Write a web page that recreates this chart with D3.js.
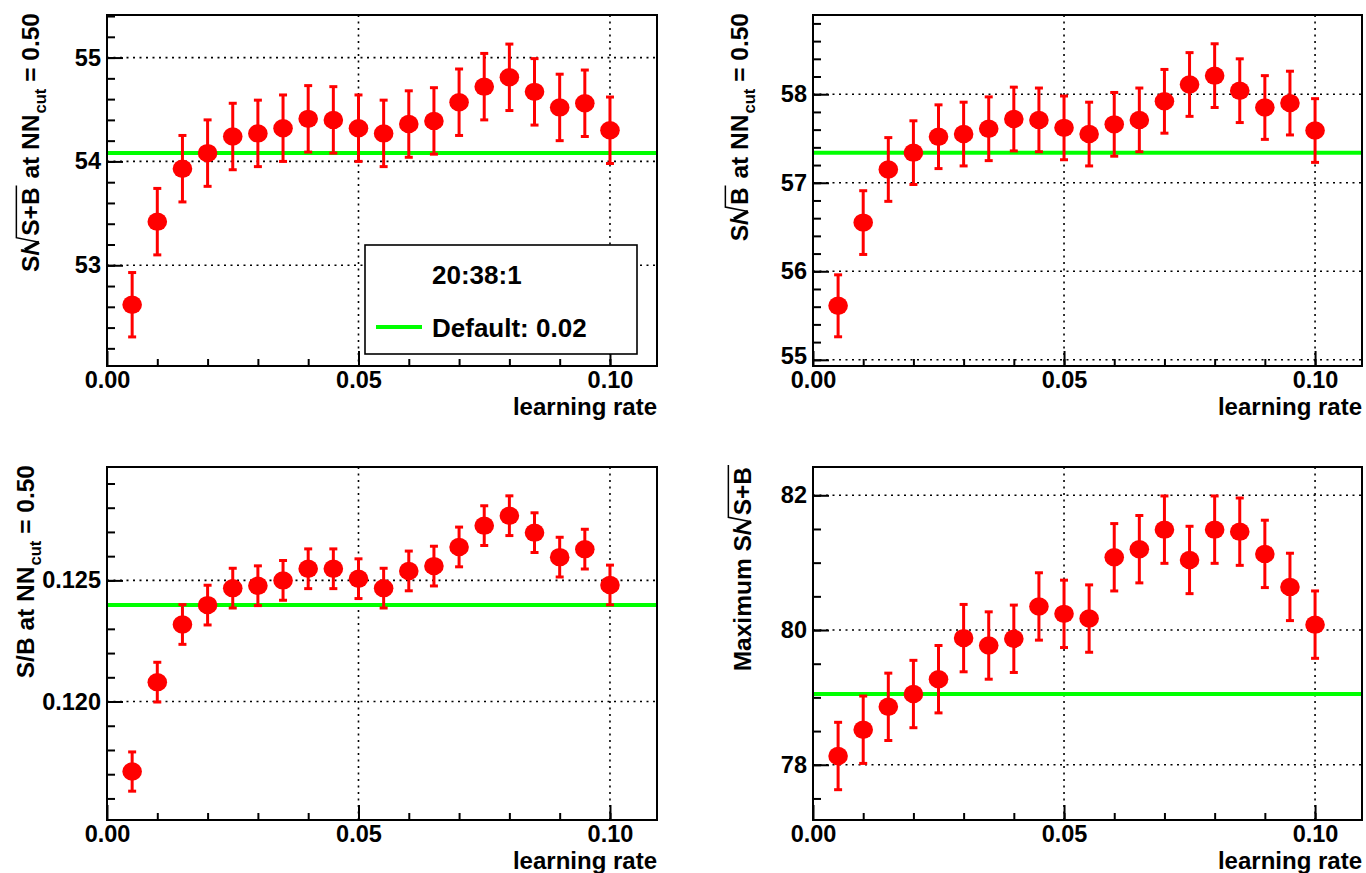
<!DOCTYPE html>
<html>
<head>
<meta charset="utf-8">
<script src="https://cdn.jsdelivr.net/npm/d3@7"></script>
<style>
  html, body { margin: 0; padding: 0; background: #fff; }
  svg text { font-family: "Liberation Sans", Arial, Helvetica, sans-serif; font-weight: bold; fill: #000; }
</style>
</head>
<body>
<svg id="canvas" width="1366" height="873"></svg>
<script>
// ---- data: learning-rate scan of the NN (20:38:1 architecture) ----
const learningRate = [0.005, 0.010, 0.015, 0.020, 0.025, 0.030, 0.035, 0.040, 0.045, 0.050,
                      0.055, 0.060, 0.065, 0.070, 0.075, 0.080, 0.085, 0.090, 0.095, 0.100];

// S/sqrt(S+B) at NN_cut = 0.50
const signifSB = [52.62, 53.42, 53.93, 54.08, 54.24, 54.27, 54.32, 54.41, 54.40, 54.32,
                  54.27, 54.36, 54.39, 54.57, 54.72, 54.81, 54.67, 54.52, 54.56, 54.30];
const signifSBErr = [0.31, 0.32, 0.32, 0.32, 0.32, 0.32, 0.32, 0.32, 0.32, 0.32,
                     0.32, 0.32, 0.32, 0.32, 0.32, 0.32, 0.32, 0.32, 0.32, 0.32];

// S/sqrt(B) at NN_cut = 0.50
const signifB = [55.61, 56.55, 57.15, 57.34, 57.52, 57.55, 57.61, 57.72, 57.71, 57.62,
                 57.55, 57.66, 57.71, 57.92, 58.11, 58.21, 58.04, 57.85, 57.90, 57.59];
const signifBErr = [0.35, 0.36, 0.36, 0.36, 0.36, 0.36, 0.36, 0.36, 0.36, 0.36,
                    0.36, 0.36, 0.36, 0.36, 0.36, 0.36, 0.36, 0.36, 0.36, 0.36];

// S/B at NN_cut = 0.50
const sOverB = [0.11711, 0.12080, 0.12318, 0.12398, 0.12468, 0.12478, 0.12500, 0.12548, 0.12548, 0.12507,
                0.12468, 0.12539, 0.12559, 0.12638, 0.12726, 0.12767, 0.12697, 0.12596, 0.12629, 0.12481];
const sOverBErr = [0.00081, 0.00082, 0.00082, 0.00082, 0.00082, 0.00082, 0.00082, 0.00082, 0.00082, 0.00082,
                   0.00082, 0.00082, 0.00082, 0.00082, 0.00082, 0.00082, 0.00082, 0.00082, 0.00082, 0.00082];

// Maximum S/sqrt(S+B)
const maxSignif = [78.13, 78.52, 78.86, 79.05, 79.27, 79.88, 79.77, 79.87, 80.35, 80.24,
                   80.17, 81.08, 81.20, 81.49, 81.04, 81.49, 81.46, 81.13, 80.64, 80.08];
const maxSignifErr = [0.50, 0.50, 0.50, 0.50, 0.50, 0.50, 0.50, 0.50, 0.50, 0.50,
                      0.50, 0.50, 0.50, 0.50, 0.50, 0.50, 0.50, 0.50, 0.50, 0.50];

const defaultRate = 0.02;
const legendHeader = "20:38:1";
const legendEntry = "Default: 0.02";
const xTitle = "learning rate";

// ---- axis ticks ----
const xMajorTicks = [0.00, 0.05, 0.10];
const xMajorLabels = ["0.00", "0.05", "0.10"];
const yTicks1 = [53, 54, 55];
const yTicks2 = [55, 56, 57, 58];
const yTicks3 = [0.120, 0.125];
const yTicks3Labels = ["0.120", "0.125"];
const yTicks4 = [78, 80, 82];

const RED = "#ff0000";
const GREEN = "#00ff00";
const FS_TICK = 23.5;
const FS_TITLE = 24.5;
const FS_XTITLE = 24;
const FS_LEG = 26;

const svg = d3.select("#canvas");
const xDomain = [0, 0.10935];
const xMinor = d3.range(0.01, 0.1001, 0.01);

const panels = [
  { box: [107, 15, 657, 366], yDomain: [52.03, 55.41], yMajor: yTicks1, yFmt: d => String(d),
    yMinor: d3.range(52.2, 55.41, 0.2), values: signifSB, errors: signifSBErr,
    title: [{t: "S/"}, {sqrt: "S+B"}, {t: " at NN"}, {sub: "cut"}, {t: " = 0.50"}], titleX: 39, legend: true },
  { box: [813, 15, 1362, 366], yDomain: [54.93, 58.895], yMajor: yTicks2, yFmt: d => String(d),
    yMinor: d3.range(55.0, 58.81, 0.2), values: signifB, errors: signifBErr,
    title: [{t: "S/"}, {sqrt: "B"}, {t: " at NN"}, {sub: "cut"}, {t: " = 0.50"}], titleX: 748 },
  { box: [107, 467, 657, 820], yDomain: [0.11511, 0.12968], yMajor: yTicks3, yFmt: (d, i) => yTicks3Labels[i],
    yMinor: d3.range(0.116, 0.12951, 0.001), values: sOverB, errors: sOverBErr,
    title: [{t: "S/B at NN"}, {sub: "cut"}, {t: " = 0.50"}], titleX: 34 },
  { box: [813, 467, 1362, 820], yDomain: [77.18, 82.42], yMajor: yTicks4, yFmt: d => String(d),
    yMinor: d3.range(77.5, 82.01, 0.5), values: maxSignif, errors: maxSignifErr,
    title: [{t: "Maximum S/"}, {sqrt: "S+B"}], titleX: 751 }
];

// rotated y-axis title built from text pieces, a subscript and a radical sign
function drawYTitle(parent, parts, baseX, endY) {
  const FS = FS_TITLE;
  const outer = parent.append("g");
  const capH = FS * 0.72;
  let cx = 0;
  parts.forEach(p => {
    if (p.t !== undefined) {
      const t = outer.append("text").attr("x", cx).attr("y", 0)
        .style("font-size", FS + "px").attr("xml:space", "preserve").text(p.t);
      cx += t.node().getComputedTextLength();
    } else if (p.sub !== undefined) {
      const t = outer.append("text").attr("x", cx + 1).attr("y", FS * 0.3)
        .style("font-size", (FS * 0.68) + "px").text(p.sub);
      cx += t.node().getComputedTextLength() + 1;
    } else if (p.sqrt !== undefined) {
      const r = FS * 0.45;
      const t = outer.append("text").attr("x", cx + r + 2).attr("y", 0)
        .style("font-size", FS + "px").text(p.sqrt);
      const w = t.node().getComputedTextLength();
      const top = -capH - 5;
      outer.append("path")
        .attr("d", `M${cx - 1},${-capH * 0.8} L${cx + r * 0.6},0`)
        .attr("stroke", "#000").attr("stroke-width", 3.4).attr("fill", "none");
      outer.append("path")
        .attr("d", `M${cx + r * 0.6},0 L${cx + r},${top} L${cx + r + w + 4},${top}`)
        .attr("stroke", "#000").attr("stroke-width", 1.5).attr("fill", "none");
      cx += r + 2 + w + 2;
    }
  });
  outer.attr("transform", `translate(${baseX},${endY + cx}) rotate(-90)`);
}

panels.forEach(P => {
  const [L, T, R, B] = P.box;
  const g = svg.append("g");
  const x = d3.scaleLinear().domain(xDomain).range([L, R]);
  const y = d3.scaleLinear().domain(P.yDomain).range([B, T]);

  // dotted grid at the major ticks
  g.append("g").selectAll("line").data(xMajorTicks.filter(v => v > 0)).join("line")
    .attr("x1", d => x(d)).attr("x2", d => x(d)).attr("y1", T).attr("y2", B)
    .attr("stroke", "#000").attr("stroke-width", 1.6).attr("stroke-dasharray", "2,4.5");
  g.append("g").selectAll("line").data(P.yMajor).join("line")
    .attr("x1", L).attr("x2", R).attr("y1", d => y(d)).attr("y2", d => y(d))
    .attr("stroke", "#000").attr("stroke-width", 1.6).attr("stroke-dasharray", "2,4.5");

  // axes: ticks point into the frame
  const yAxisMinor = d3.axisLeft(y).tickValues(P.yMinor).tickSize(-8).tickFormat("");
  const yAxisMajor = d3.axisLeft(y).tickValues(P.yMajor).tickSize(-16).tickPadding(6).tickFormat(P.yFmt);
  const xAxisMinor = d3.axisBottom(x).tickValues(xMinor).tickSize(-7).tickFormat("");
  const xAxisMajor = d3.axisBottom(x).tickValues(xMajorTicks).tickSize(-15).tickPadding(5)
    .tickFormat((d, i) => xMajorLabels[i]);

  [[yAxisMinor, `translate(${L},0)`, "y"], [yAxisMajor, `translate(${L},0)`, "y"],
   [xAxisMinor, `translate(0,${B})`, "x"], [xAxisMajor, `translate(0,${B})`, "x"]].forEach(([ax, tr, kind]) => {
    const a = g.append("g").attr("transform", tr).call(ax);
    a.select(".domain").remove();
    a.selectAll(".tick line").attr("stroke", "#000").attr("stroke-width", 2);
    a.selectAll(".tick text").style("font-size", FS_TICK + "px").attr("fill", "#000")
      .style("font-family", '"Liberation Sans", Arial, sans-serif').style("font-weight", "bold");
    if (kind === "y") {
      // lift a label that sits on the bottom edge so it clears the x labels
      a.selectAll(".tick text").attr("y", d => (B - y(d) < 10 ? -4 : 0));
    }
  });

  // reference line at the default learning rate
  const defVal = P.values[learningRate.indexOf(defaultRate)];
  g.append("line").attr("x1", L).attr("x2", R).attr("y1", y(defVal)).attr("y2", y(defVal))
    .attr("stroke", GREEN).attr("stroke-width", 4);

  // error bars with end caps
  const pts = learningRate.map((lr, i) => ({ lr, v: P.values[i], e: P.errors[i] }));
  const eb = g.append("g").attr("stroke", RED).attr("stroke-width", 3);
  eb.selectAll("line.bar").data(pts).join("line").attr("class", "bar")
    .attr("x1", d => x(d.lr)).attr("x2", d => x(d.lr))
    .attr("y1", d => y(d.v - d.e)).attr("y2", d => y(d.v + d.e));
  eb.selectAll("line.capHi").data(pts).join("line").attr("class", "capHi")
    .attr("x1", d => x(d.lr) - 4).attr("x2", d => x(d.lr) + 4)
    .attr("y1", d => y(d.v + d.e)).attr("y2", d => y(d.v + d.e));
  eb.selectAll("line.capLo").data(pts).join("line").attr("class", "capLo")
    .attr("x1", d => x(d.lr) - 4).attr("x2", d => x(d.lr) + 4)
    .attr("y1", d => y(d.v - d.e)).attr("y2", d => y(d.v - d.e));

  // markers
  g.append("g").selectAll("ellipse").data(pts).join("ellipse")
    .attr("cx", d => x(d.lr)).attr("cy", d => y(d.v)).attr("rx", 9.8).attr("ry", 9.2)
    .attr("fill", RED);

  // legend (top-left panel only)
  if (P.legend) {
    const lg = g.append("g");
    lg.append("rect").attr("x", 365).attr("y", 245).attr("width", 272).attr("height", 109)
      .attr("fill", "#fff").attr("stroke", "#000").attr("stroke-width", 1.6);
    lg.append("text").attr("x", 432).attr("y", 284).style("font-size", FS_LEG + "px").text(legendHeader);
    lg.append("line").attr("x1", 376).attr("x2", 422).attr("y1", 327).attr("y2", 327)
      .attr("stroke", GREEN).attr("stroke-width", 4);
    lg.append("text").attr("x", 432).attr("y", 337).style("font-size", FS_LEG + "px").text(legendEntry);
  }

  // frame
  g.append("rect").attr("x", L).attr("y", T).attr("width", R - L).attr("height", B - T)
    .attr("fill", "none").attr("stroke", "#000").attr("stroke-width", 2);

  // axis titles
  g.append("text").attr("x", R).attr("y", B + 49).attr("text-anchor", "end")
    .style("font-size", FS_XTITLE + "px").text(xTitle);
  drawYTitle(g, P.title, P.titleX, T - 2);
});
</script>
</body>
</html>
